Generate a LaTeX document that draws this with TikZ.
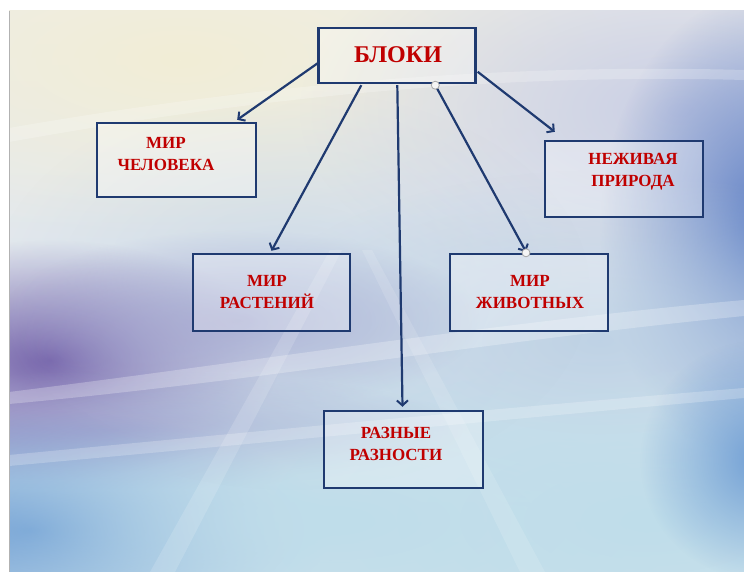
\documentclass[tikz,border=0pt]{standalone}
\usepackage{fontspec}
\setmainfont{Liberation Serif}
\usetikzlibrary{arrows.meta,calc,fadings}
\definecolor{navy}{HTML}{1F3A70}
\definecolor{txtred}{HTML}{C00000}
\definecolor{bgtop}{HTML}{EDEDEB}
\definecolor{bgmid}{HTML}{E0E7EE}
\definecolor{bgbot}{HTML}{D2E5EE}
\definecolor{cream}{HTML}{F2EED6}
\definecolor{lav}{HTML}{CACFE4}
\definecolor{rblue}{HTML}{5A7CC4}
\definecolor{purp}{HTML}{7562AA}
\definecolor{purp2}{HTML}{9A92C6}
\definecolor{lblue}{HTML}{5C8FCF}
\definecolor{lcyan}{HTML}{BFDDEA}
\definecolor{mblue}{HTML}{B7CDE3}
\tikzfading[name=softglow, inner color=transparent!0, outer color=transparent!100]
\tikzset{
  glow/.style={fill=#1, path fading=softglow},
  boxnode/.style={rectangle, draw=navy, line width=2.4pt, fill=white, fill opacity=0.3, draw opacity=1, inner sep=0pt},
  lbl/.style={text=txtred, font=\bfseries\fontsize{17}{22}\selectfont, align=center, inner sep=0pt},
  conn/.style={draw=navy, line width=2.2pt, -{Straight Barb[length=5pt,width=11pt,line width=2pt]}},
  handle/.style={circle, draw=gray!70, fill=white!92!gray, line width=0.8pt, minimum size=8pt, inner sep=0pt}
}
\begin{document}
\begin{tikzpicture}[x=1pt,y=-1pt]
\useasboundingbox (0,0) rectangle (744,572);
\fill[white] (0,0) rectangle (744,572);
% ---- background ----
\shade[top color=bgtop, bottom color=bgbot, middle color=bgmid] (9,11) rectangle (744,572);
\begin{scope}
\clip (9,11) rectangle (744,572);
\fill[glow=cream] (180,60) ellipse [x radius=450, y radius=180];
\fill[glow=lav] (680,110) ellipse [x radius=380, y radius=200];
\fill[glow=rblue] (770,230) ellipse [x radius=170, y radius=240];
\fill[glow=mblue, opacity=0.8] (600,340) ellipse [x radius=360, y radius=170];
\fill[glow=purp] (50,360) ellipse [x radius=230, y radius=120];
\fill[glow=purp2, opacity=0.8] (240,320) ellipse [x radius=240, y radius=90];
\fill[glow=purp2] (110,430) ellipse [x radius=360, y radius=60];
\fill[glow=lblue] (30,530) ellipse [x radius=300, y radius=120];
\fill[glow=lcyan] (330,520) ellipse [x radius=480, y radius=160];
\fill[glow=lcyan] (650,520) ellipse [x radius=380, y radius=160];
\fill[glow=mblue, opacity=0.5] (290,290) ellipse [x radius=300, y radius=200];
\fill[glow=lblue, opacity=0.8] (760,460) ellipse [x radius=120, y radius=120];
% white swooshes
\fill[white, opacity=0.25] (9,392) .. controls (250,362) and (500,322) .. (744,300) -- (744,316) .. controls (500,340) and (250,382) .. (9,404) -- cycle;
\fill[white, opacity=0.22] (9,455) .. controls (250,432) and (500,408) .. (744,388) -- (744,398) .. controls (500,420) and (250,444) .. (9,466) -- cycle;
\fill[white, opacity=0.22] (9,128) .. controls (200,95) and (450,62) .. (744,70) -- (744,80) .. controls (450,72) and (200,108) .. (9,142) -- cycle;
\fill[white, opacity=0.15] (150,572) -- (330,250) -- (342,250) -- (175,572) -- cycle;
\fill[white, opacity=0.13] (520,572) -- (362,250) -- (372,250) -- (545,572) -- cycle;
\end{scope}
\draw[gray!60, line width=0.8pt] (9,11) -- (9,572);
% ---- boxes ----
\node[boxnode, minimum width=157pt, minimum height=55pt] (blk) at (397,55.5) {};
\node[boxnode, minimum width=159pt, minimum height=74pt] (chel) at (176.5,160) {};
\node[boxnode, minimum width=158pt, minimum height=76pt] (nezh) at (624,179) {};
\node[boxnode, minimum width=157pt, minimum height=77pt] (rast) at (271.5,292.5) {};
\node[boxnode, minimum width=158pt, minimum height=77pt] (zhiv) at (529,292.5) {};
\node[boxnode, minimum width=159pt, minimum height=77pt] (razn) at (403.5,449.5) {};
% ---- labels ----
\node[lbl, font=\bfseries\fontsize{24}{28}\selectfont] (tblk) at (398,55) {БЛОКИ};
\node[lbl] (tchel) at (166,154) {МИР\\ЧЕЛОВЕКА};
\node[lbl] (tnezh) at (633,172) {НЕЖИВАЯ\\ПРИРОДА};
\node[lbl] (trast) at (267,292) {МИР\\РАСТЕНИЙ};
\node[lbl] (tzhiv) at (530,292) {МИР\\ЖИВОТНЫХ};
\node[lbl] (trazn) at (396,444) {РАЗНЫЕ\\РАЗНОСТИ};
% ---- connectors ----
\draw[conn] ($(blk.north west)+(1,36)$) -- ($(chel.north east)+(-20,-2)$);
\draw[conn] ($(blk.south west)+(44,1)$) -- ($(rast.north)+(0,-2)$);
\draw[conn] ($(blk.south west)+(80,1)$) -- ($(razn.north)+(-1,-3)$);
\draw[conn] ($(blk.south west)+(118,1)$) -- ($(zhiv.north)+(-3,-1)$);
\draw[conn] ($(blk.north east)+(1,45)$) -- ($(nezh.north west)+(11,-8)$);
\node[handle] (h1) at ($(blk.south west)+(118,1)$) {};
\node[handle] (h2) at ($(zhiv.north)+(-3,0)$) {};
\end{tikzpicture}
\end{document}
